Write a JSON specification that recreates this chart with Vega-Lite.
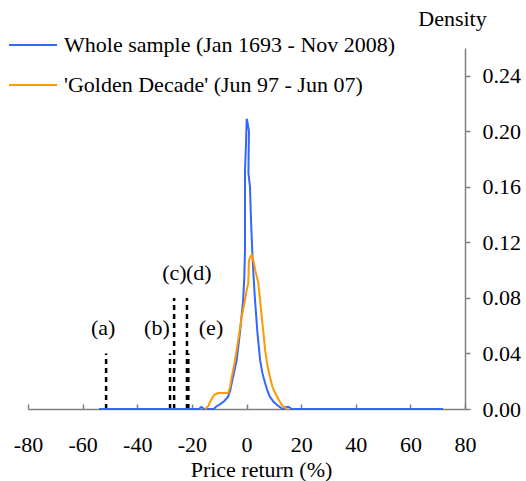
{
  "$schema": "https://vega.github.io/schema/vega-lite/v6.json",
  "width": 437,
  "height": 361,
  "autosize": {"type": "none"},
  "padding": {"left": 28, "top": 48, "right": 61, "bottom": 72},
  "background": "white",
  "config": {
    "font": "Liberation Serif",
    "view": {"stroke": null},
    "axis": {"grid": false, "domainColor": "#7f7f7f", "tickColor": "#7f7f7f", "domainWidth": 1.5, "tickWidth": 1.5, "labelColor": "black", "titleColor": "black", "labelFontSize": 22, "titleFontSize": 22, "titleFontWeight": "normal", "labelFont": "Liberation Serif", "titleFont": "Liberation Serif"}
  },
  "datasets": {
    "curves": [
      {"series": "Whole sample (Jan 1693 - Nov 2008)", "i": 1, "x": -54, "y": 0},
      {"series": "Whole sample (Jan 1693 - Nov 2008)", "i": 2, "x": -17.5, "y": 0},
      {"series": "Whole sample (Jan 1693 - Nov 2008)", "i": 3, "x": -16.5, "y": 0.0015},
      {"series": "Whole sample (Jan 1693 - Nov 2008)", "i": 4, "x": -15.5, "y": 0},
      {"series": "Whole sample (Jan 1693 - Nov 2008)", "i": 5, "x": -12, "y": 0},
      {"series": "Whole sample (Jan 1693 - Nov 2008)", "i": 6, "x": -11, "y": 0.002},
      {"series": "Whole sample (Jan 1693 - Nov 2008)", "i": 7, "x": -10, "y": 0.003},
      {"series": "Whole sample (Jan 1693 - Nov 2008)", "i": 8, "x": -9.1, "y": 0.0043},
      {"series": "Whole sample (Jan 1693 - Nov 2008)", "i": 9, "x": -8, "y": 0.006},
      {"series": "Whole sample (Jan 1693 - Nov 2008)", "i": 10, "x": -6.8, "y": 0.0087},
      {"series": "Whole sample (Jan 1693 - Nov 2008)", "i": 11, "x": -6, "y": 0.013},
      {"series": "Whole sample (Jan 1693 - Nov 2008)", "i": 12, "x": -5.4, "y": 0.0187},
      {"series": "Whole sample (Jan 1693 - Nov 2008)", "i": 13, "x": -4.5, "y": 0.027},
      {"series": "Whole sample (Jan 1693 - Nov 2008)", "i": 14, "x": -3.6, "y": 0.035},
      {"series": "Whole sample (Jan 1693 - Nov 2008)", "i": 15, "x": -3.0, "y": 0.045},
      {"series": "Whole sample (Jan 1693 - Nov 2008)", "i": 16, "x": -2.4, "y": 0.055},
      {"series": "Whole sample (Jan 1693 - Nov 2008)", "i": 17, "x": -1.8, "y": 0.067},
      {"series": "Whole sample (Jan 1693 - Nov 2008)", "i": 18, "x": -1.2, "y": 0.079},
      {"series": "Whole sample (Jan 1693 - Nov 2008)", "i": 19, "x": -0.8, "y": 0.095},
      {"series": "Whole sample (Jan 1693 - Nov 2008)", "i": 20, "x": -0.55, "y": 0.115},
      {"series": "Whole sample (Jan 1693 - Nov 2008)", "i": 21, "x": -0.55, "y": 0.172},
      {"series": "Whole sample (Jan 1693 - Nov 2008)", "i": 22, "x": -0.2, "y": 0.19},
      {"series": "Whole sample (Jan 1693 - Nov 2008)", "i": 23, "x": 0.07, "y": 0.209},
      {"series": "Whole sample (Jan 1693 - Nov 2008)", "i": 24, "x": 0.4, "y": 0.206},
      {"series": "Whole sample (Jan 1693 - Nov 2008)", "i": 25, "x": 0.9, "y": 0.2},
      {"series": "Whole sample (Jan 1693 - Nov 2008)", "i": 26, "x": 0.7, "y": 0.17},
      {"series": "Whole sample (Jan 1693 - Nov 2008)", "i": 27, "x": 1.28, "y": 0.16},
      {"series": "Whole sample (Jan 1693 - Nov 2008)", "i": 28, "x": 1.65, "y": 0.136},
      {"series": "Whole sample (Jan 1693 - Nov 2008)", "i": 29, "x": 2.13, "y": 0.1125},
      {"series": "Whole sample (Jan 1693 - Nov 2008)", "i": 30, "x": 2.6, "y": 0.095},
      {"series": "Whole sample (Jan 1693 - Nov 2008)", "i": 31, "x": 3.1, "y": 0.079},
      {"series": "Whole sample (Jan 1693 - Nov 2008)", "i": 32, "x": 4.0, "y": 0.055},
      {"series": "Whole sample (Jan 1693 - Nov 2008)", "i": 33, "x": 5.0, "y": 0.035},
      {"series": "Whole sample (Jan 1693 - Nov 2008)", "i": 34, "x": 5.8, "y": 0.026},
      {"series": "Whole sample (Jan 1693 - Nov 2008)", "i": 35, "x": 6.8, "y": 0.0187},
      {"series": "Whole sample (Jan 1693 - Nov 2008)", "i": 36, "x": 7.7, "y": 0.013},
      {"series": "Whole sample (Jan 1693 - Nov 2008)", "i": 37, "x": 8.6, "y": 0.0087},
      {"series": "Whole sample (Jan 1693 - Nov 2008)", "i": 38, "x": 10, "y": 0.005},
      {"series": "Whole sample (Jan 1693 - Nov 2008)", "i": 39, "x": 11.1, "y": 0.003},
      {"series": "Whole sample (Jan 1693 - Nov 2008)", "i": 40, "x": 12.5, "y": 0.001},
      {"series": "Whole sample (Jan 1693 - Nov 2008)", "i": 41, "x": 13.4, "y": 0},
      {"series": "Whole sample (Jan 1693 - Nov 2008)", "i": 42, "x": 14.3, "y": 0.0015},
      {"series": "Whole sample (Jan 1693 - Nov 2008)", "i": 43, "x": 15.5, "y": 0.0015},
      {"series": "Whole sample (Jan 1693 - Nov 2008)", "i": 44, "x": 16.5, "y": 0},
      {"series": "Whole sample (Jan 1693 - Nov 2008)", "i": 45, "x": 72, "y": 0},
      {"series": "'Golden Decade' (Jun 97 - Jun 07)", "i": 1, "x": -15.2, "y": 0},
      {"series": "'Golden Decade' (Jun 97 - Jun 07)", "i": 2, "x": -14, "y": 0.002},
      {"series": "'Golden Decade' (Jun 97 - Jun 07)", "i": 3, "x": -13.4, "y": 0.005},
      {"series": "'Golden Decade' (Jun 97 - Jun 07)", "i": 4, "x": -12.5, "y": 0.008},
      {"series": "'Golden Decade' (Jun 97 - Jun 07)", "i": 5, "x": -11.9, "y": 0.01},
      {"series": "'Golden Decade' (Jun 97 - Jun 07)", "i": 6, "x": -10.5, "y": 0.0115},
      {"series": "'Golden Decade' (Jun 97 - Jun 07)", "i": 7, "x": -6.7, "y": 0.0115},
      {"series": "'Golden Decade' (Jun 97 - Jun 07)", "i": 8, "x": -6.0, "y": 0.016},
      {"series": "'Golden Decade' (Jun 97 - Jun 07)", "i": 9, "x": -5.4, "y": 0.023},
      {"series": "'Golden Decade' (Jun 97 - Jun 07)", "i": 10, "x": -4.5, "y": 0.032},
      {"series": "'Golden Decade' (Jun 97 - Jun 07)", "i": 11, "x": -3.6, "y": 0.0425},
      {"series": "'Golden Decade' (Jun 97 - Jun 07)", "i": 12, "x": -2.7, "y": 0.054},
      {"series": "'Golden Decade' (Jun 97 - Jun 07)", "i": 13, "x": -1.8, "y": 0.066},
      {"series": "'Golden Decade' (Jun 97 - Jun 07)", "i": 14, "x": -0.6, "y": 0.078},
      {"series": "'Golden Decade' (Jun 97 - Jun 07)", "i": 15, "x": 0.0, "y": 0.085},
      {"series": "'Golden Decade' (Jun 97 - Jun 07)", "i": 16, "x": 0.66, "y": 0.091},
      {"series": "'Golden Decade' (Jun 97 - Jun 07)", "i": 17, "x": 0.9, "y": 0.107},
      {"series": "'Golden Decade' (Jun 97 - Jun 07)", "i": 18, "x": 1.5, "y": 0.11},
      {"series": "'Golden Decade' (Jun 97 - Jun 07)", "i": 19, "x": 1.9, "y": 0.111},
      {"series": "'Golden Decade' (Jun 97 - Jun 07)", "i": 20, "x": 2.5, "y": 0.107},
      {"series": "'Golden Decade' (Jun 97 - Jun 07)", "i": 21, "x": 3.2, "y": 0.1},
      {"series": "'Golden Decade' (Jun 97 - Jun 07)", "i": 22, "x": 4.3, "y": 0.091},
      {"series": "'Golden Decade' (Jun 97 - Jun 07)", "i": 23, "x": 5.0, "y": 0.078},
      {"series": "'Golden Decade' (Jun 97 - Jun 07)", "i": 24, "x": 5.6, "y": 0.066},
      {"series": "'Golden Decade' (Jun 97 - Jun 07)", "i": 25, "x": 6.2, "y": 0.055},
      {"series": "'Golden Decade' (Jun 97 - Jun 07)", "i": 26, "x": 6.8, "y": 0.0425},
      {"series": "'Golden Decade' (Jun 97 - Jun 07)", "i": 27, "x": 7.6, "y": 0.032},
      {"series": "'Golden Decade' (Jun 97 - Jun 07)", "i": 28, "x": 8.6, "y": 0.023},
      {"series": "'Golden Decade' (Jun 97 - Jun 07)", "i": 29, "x": 9.5, "y": 0.016},
      {"series": "'Golden Decade' (Jun 97 - Jun 07)", "i": 30, "x": 10.5, "y": 0.0115},
      {"series": "'Golden Decade' (Jun 97 - Jun 07)", "i": 31, "x": 11.7, "y": 0.007},
      {"series": "'Golden Decade' (Jun 97 - Jun 07)", "i": 32, "x": 12.9, "y": 0.003},
      {"series": "'Golden Decade' (Jun 97 - Jun 07)", "i": 33, "x": 14.8, "y": 0}
    ],
    "events": [
      {"event": "a", "x": -51.4, "y0": 0, "h": 0.04},
      {"event": "b", "x": -28.0, "y0": 0, "h": 0.04},
      {"event": "c", "x": -26.5, "y0": 0, "h": 0.08},
      {"event": "d", "x": -21.8, "y0": 0, "h": 0.08},
      {"event": "e", "x": -21.3, "y0": 0, "h": 0.04}
    ],
    "labels": [
      {"text": "(a)", "x": -52.5, "y": 0.058},
      {"text": "(b)", "x": -32.8, "y": 0.058},
      {"text": "(c)", "x": -26.4, "y": 0.098},
      {"text": "(d)", "x": -17.5, "y": 0.098},
      {"text": "(e)", "x": -13.0, "y": 0.058}
    ]
  },
  "layer": [
    {
      "data": {"name": "events"},
      "mark": {"type": "rule", "color": "black", "strokeWidth": 2.5, "strokeDash": [5, 4]},
      "encoding": {
        "x": {"field": "x", "type": "quantitative", "scale": {"domain": [-80, 80], "nice": false, "zero": false},
          "axis": {"values": [-80, -60, -40, -20, 0, 20, 40, 60, 80], "tickSize": -5, "labelPadding": 47, "labelBaseline": "alphabetic", "labelExpr": "replace(datum.label, '\u2212', '-')", "labelFlush": false, "labelFont": "Liberation Serif", "titleFont": "Liberation Serif", "title": "Price return (%)", "titleX": 233, "titleY": 67, "titleBaseline": "alphabetic", "titleAlign": "center"}},
        "y": {"field": "y0", "type": "quantitative", "scale": {"domain": [0, 0.26], "nice": false},
          "axis": {"orient": "right", "values": [0, 0.04, 0.08, 0.12, 0.16, 0.2, 0.24], "format": ".2f", "tickSize": 5, "labelPadding": 12, "labelBaseline": "middle", "labelFlush": false, "labelFont": "Liberation Serif", "titleFont": "Liberation Serif", "title": "Density", "titleAngle": 0, "titleX": -13, "titleY": -23, "titleAlign": "center", "titleBaseline": "alphabetic"}},
        "y2": {"field": "h"}
      }
    },
    {
      "data": {"name": "labels"},
      "mark": {"type": "text", "fontSize": 22, "font": "Liberation Serif", "color": "black", "baseline": "middle", "align": "center"},
      "encoding": {
        "x": {"field": "x", "type": "quantitative"},
        "y": {"field": "y", "type": "quantitative"},
        "text": {"field": "text"}
      }
    },
    {
      "data": {"name": "curves"},
      "mark": {"type": "line", "strokeWidth": 2, "interpolate": "linear"},
      "encoding": {
        "x": {"field": "x", "type": "quantitative"},
        "y": {"field": "y", "type": "quantitative"},
        "order": {"field": "i", "type": "quantitative"},
        "color": {"field": "series", "type": "nominal",
          "scale": {"domain": ["Whole sample (Jan 1693 - Nov 2008)", "'Golden Decade' (Jun 97 - Jun 07)"], "range": ["#3366ff", "#ff9900"]},
          "legend": {"orient": "none", "legendX": -20, "legendY": -14, "title": null, "padding": 0, "symbolType": "stroke", "symbolSize": 2304, "symbolStrokeWidth": 2, "labelFontSize": 22, "labelFont": "Liberation Serif", "labelColor": "black", "labelOffset": 6, "clipHeight": 22, "rowPadding": 18, "labelLimit": 0}}
      }
    }
  ]
}
